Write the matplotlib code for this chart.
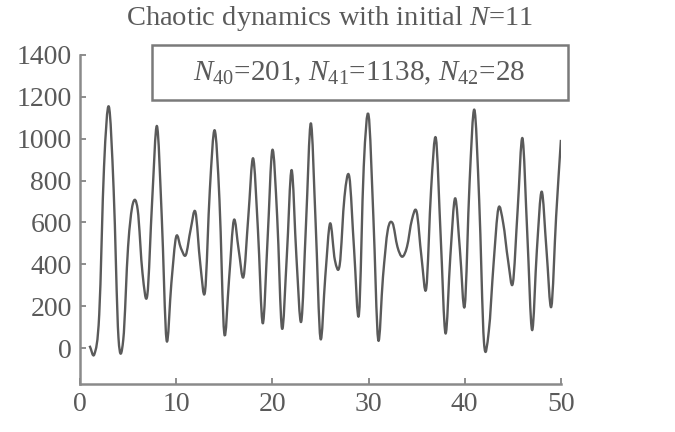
import numpy as np
import matplotlib
matplotlib.use('Agg')
import matplotlib.pyplot as plt
from matplotlib.patches import Rectangle, PathPatch
from matplotlib.path import Path

# population size N at half-step times t = 1, 1.5, ..., 50
t = np.arange(1, 50.5, 0.5)
population = [
    11, -29, 160, 866, 1153, 755, 50, 40, 484, 690,              # t 1 .. 5.5
    660, 357, 253, 700, 1060, 627, 38, 310, 532, 476,            # t 6 .. 10.5
    444, 565, 650, 405, 270, 755, 1040, 707, 70, 330,            # t 11 .. 15.5
    611, 468, 340, 627, 906, 564, 118, 516, 946, 627,            # t 16 .. 20.5
    94, 436, 850, 436, 126, 595, 1073, 595, 46, 340,             # t 21 .. 25.5
    595, 420, 397, 723, 818, 468, 160, 866, 1113, 627,           # t 26 .. 30.5
    40, 340, 564, 596, 484, 436, 484, 611, 651, 436,             # t 31 .. 35.5
    285, 755, 1002, 532, 70, 436, 715, 468, 201, 787,            # t 36 .. 40.5
    1138, 707, 28, 80, 404, 667, 596, 420, 309, 659,             # t 41 .. 45.5
    1002, 548, 86, 468, 747, 468, 197, 627, 994,                 # t 46 .. 50
]

x_ticks = [0, 10, 20, 30, 40, 50]
y_ticks = [0, 200, 400, 600, 800, 1000, 1200, 1400]


def smooth_path(xs, ys):
    # Catmull-Rom style bezier path through every read point
    pts = np.column_stack([xs, ys]).astype(float)
    tangents = np.zeros_like(pts)
    tangents[1:-1] = (pts[2:] - pts[:-2]) / 2
    tangents[0] = pts[1] - pts[0]
    tangents[-1] = pts[-1] - pts[-2]
    verts = [pts[0]]
    codes = [Path.MOVETO]
    for i in range(len(pts) - 1):
        verts += [pts[i] + tangents[i] / 3, pts[i + 1] - tangents[i + 1] / 3, pts[i + 1]]
        codes += [Path.CURVE4] * 3
    return Path(verts, codes)


grey = '#5a5a5a'
plt.rcParams['font.family'] = ['Liberation Serif', 'DejaVu Serif']
plt.rcParams['mathtext.fontset'] = 'custom'
plt.rcParams['mathtext.rm'] = 'Liberation Serif'
plt.rcParams['mathtext.it'] = 'Liberation Serif:italic'

fig = plt.figure(figsize=(6.75, 4.32), dpi=100)
ax = fig.add_axes([0.1185, 0.111, 0.7125, 0.762])

ax.add_patch(PathPatch(smooth_path(t, population), fill=False,
                       edgecolor=grey, linewidth=1.7, joinstyle='round'))

ax.set_xlim(0, 50)
ax.set_ylim(-172, 1400)
ax.set_xticks(x_ticks)
ax.set_yticks(y_ticks)
ax.tick_params(direction='in', length=4, width=1.2, colors='#7a7a7a',
               labelsize=20, labelcolor=grey, pad=6)

for side in ['top', 'right']:
    ax.spines[side].set_visible(False)
for side in ['left', 'bottom']:
    ax.spines[side].set_color('#8a8a8a')
    ax.spines[side].set_linewidth(1.8)

fig.text(0.489, 0.958, 'Chaotic dynamics with initial $N$=11',
         ha='center', va='center', fontsize=20.5, color=grey)

# annotation box with the last values
box = Rectangle((152 / 675, 1 - 100 / 432), (568 - 152) / 675, 55 / 432,
                transform=fig.transFigure, fill=False,
                edgecolor='#7a7a7a', linewidth=1.8)
fig.patches.append(box)
fig.text(359 / 675, 1 - 73 / 432,
         '$N_{40}$=201, $N_{41}$=1138, $N_{42}$=28',
         ha='center', va='center', fontsize=21, color=grey)

fig.savefig('out.png', dpi=100)
